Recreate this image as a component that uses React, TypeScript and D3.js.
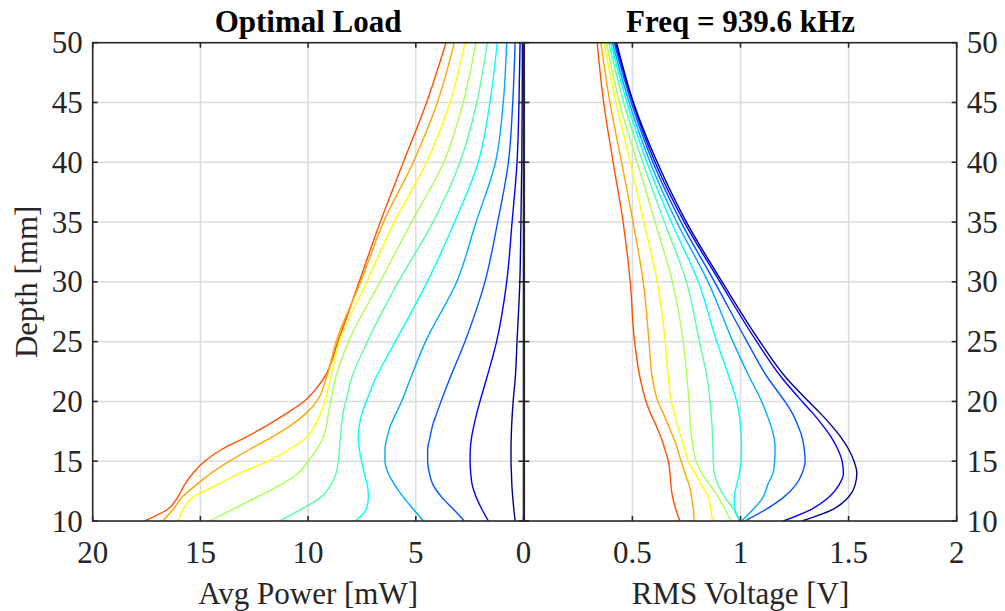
import React from "react";
import * as d3 from "d3";

const depths = [10, 11, 12, 13, 14, 15, 16, 17, 18, 19, 20, 22, 25, 30, 35, 40, 45, 50];

// Avg power [mW] per curve (left panel)
const powerRed = [17.6, 16.5, 16.05, 15.75, 15.35, 14.8, 14.0, 12.9, 11.9, 11.0, 10.2, 9.25, 8.62, 7.63, 6.65, 5.58, 4.5, 3.6];
const powerOrange = [16.76, 16.25, 15.85, 15.2, 14.5, 13.65, 12.7, 11.7, 10.8, 10.1, 9.6, 9.15, 8.7, 7.56, 6.5, 5.12, 4.0, 3.21];
const powerYellow = [16.03, 15.8, 15.34, 14.25, 13.17, 11.85, 10.85, 10.07, 9.68, 9.42, 9.22, 8.95, 8.55, 7.28, 6.0, 4.5, 3.41, 2.72];
const powerYellowGreen = [14.58, 13.48, 12.39, 11.31, 10.46, 10.0, 9.6, 9.3, 9.14, 9.06, 8.95, 8.72, 8.12, 6.66, 5.2, 3.7, 2.8, 2.21];
const powerGreen = [11.34, 10.3, 9.4, 8.95, 8.7, 8.6, 8.55, 8.5, 8.45, 8.38, 8.25, 7.97, 7.25, 5.81, 4.2, 2.95, 2.17, 1.68];
const powerCyan = [7.8, 7.3, 7.2, 7.25, 7.4, 7.52, 7.62, 7.67, 7.62, 7.5, 7.3, 6.85, 5.95, 4.47, 3.2, 2.1, 1.56, 1.22];
const powerLightBlue = [4.65, 5.12, 5.58, 5.97, 6.28, 6.43, 6.43, 6.33, 6.17, 5.92, 5.66, 5.23, 4.55, 3.1, 2.2, 1.3, 0.94, 0.78];
const powerBlue = [2.75, 3.26, 3.8, 4.19, 4.37, 4.45, 4.45, 4.34, 4.22, 4.03, 3.83, 3.4, 2.72, 1.79, 1.2, 0.7, 0.5, 0.39];
const powerBlue2 = [1.63, 1.94, 2.2, 2.38, 2.45, 2.48, 2.47, 2.41, 2.3, 2.17, 2.02, 1.7, 1.25, 0.78, 0.53, 0.3, 0.21, 0.16];
const powerNavy = [0.39, 0.45, 0.5, 0.54, 0.56, 0.58, 0.58, 0.57, 0.55, 0.52, 0.48, 0.38, 0.3, 0.17, 0.12, 0.08, 0.06, 0.05];

// RMS voltage [V] per curve (right panel)
const voltRed = [0.72, 0.7, 0.686, 0.678, 0.674, 0.666, 0.65, 0.632, 0.609, 0.584, 0.563, 0.535, 0.51, 0.49, 0.457, 0.411, 0.367, 0.337];
const voltOrange = [0.786, 0.782, 0.774, 0.763, 0.743, 0.725, 0.709, 0.689, 0.666, 0.643, 0.618, 0.592, 0.577, 0.55, 0.503, 0.45, 0.396, 0.354];
const voltYellow = [0.87, 0.863, 0.851, 0.82, 0.789, 0.758, 0.743, 0.725, 0.708, 0.694, 0.68, 0.666, 0.652, 0.615, 0.553, 0.49, 0.424, 0.368];
const voltYellowGreen = [0.955, 0.928, 0.897, 0.859, 0.82, 0.794, 0.782, 0.774, 0.768, 0.765, 0.762, 0.752, 0.735, 0.685, 0.605, 0.522, 0.44, 0.38];
const voltGreen = [0.995, 0.967, 0.928, 0.897, 0.879, 0.874, 0.873, 0.871, 0.868, 0.864, 0.859, 0.845, 0.81, 0.75, 0.648, 0.548, 0.46, 0.391];
const voltCyan = [0.998, 0.975, 0.971, 0.982, 0.995, 1.002, 1.005, 1.004, 1.0, 0.993, 0.982, 0.948, 0.89, 0.805, 0.68, 0.567, 0.475, 0.4];
const voltLightBlue = [1.005, 1.06, 1.105, 1.125, 1.15, 1.158, 1.16, 1.155, 1.14, 1.12, 1.098, 1.042, 0.965, 0.85, 0.705, 0.582, 0.485, 0.408];
const voltBlue = [1.02, 1.12, 1.2, 1.255, 1.285, 1.299, 1.295, 1.285, 1.265, 1.24, 1.205, 1.125, 1.03, 0.88, 0.725, 0.595, 0.495, 0.416];
const voltBlue2 = [1.198, 1.33, 1.41, 1.455, 1.476, 1.47, 1.45, 1.42, 1.38, 1.335, 1.285, 1.19, 1.075, 0.905, 0.74, 0.605, 0.502, 0.422];
const voltNavy = [1.283, 1.43, 1.5, 1.53, 1.538, 1.525, 1.5, 1.465, 1.42, 1.37, 1.315, 1.21, 1.09, 0.915, 0.75, 0.615, 0.505, 0.427];

const seriesColors = ["#ff5000", "#ffa500", "#ffff00", "#aaff55", "#55ffaa", "#00ffff", "#00aaff", "#0055ff", "#0000ff", "#00008f"];
const powerSeries = [powerRed, powerOrange, powerYellow, powerYellowGreen, powerGreen, powerCyan, powerLightBlue, powerBlue, powerBlue2, powerNavy];
const voltSeries = [voltRed, voltOrange, voltYellow, voltYellowGreen, voltGreen, voltCyan, voltLightBlue, voltBlue, voltBlue2, voltNavy];

const yTicks = [10, 15, 20, 25, 30, 35, 40, 45, 50];
const powerTicks = [20, 15, 10, 5, 0];
const voltTicks = [0.5, 1, 1.5, 2];

const leftTitle = "Optimal Load";
const rightTitle = "Freq = 939.6 kHz";
const leftXLabel = "Avg Power [mW]";
const rightXLabel = "RMS Voltage [V]";
const yLabel = "Depth [mm]";

const W = 1005;
const H = 611;
const top = 42.7;
const bottom = 521;
const L0 = 92.7, L1 = 523.5;
const R0 = 524.3, R1 = 956.7;
const axisColor = "#262626";
const gridColor = "#dcdcdc";
const font = "'Liberation Serif', 'Times New Roman', serif";
const fs = 31;
const tickLen = 5;

export default function App() {
  const y = d3.scaleLinear().domain([10, 50]).range([bottom, top]);
  const xP = d3.scaleLinear().domain([20, 0]).range([L0, L1]);
  const xV = d3.scaleLinear().domain([0, 2]).range([R0, R1]);

  const mkLine = (xs: d3.ScaleLinear<number, number>) =>
    d3
      .line<[number, number]>()
      .x((p) => xs(p[0]))
      .y((p) => y(p[1]))
      .curve(d3.curveMonotoneY);

  const lineP = mkLine(xP);
  const lineV = mkLine(xV);
  const pts = (s: number[]) =>
    depths.map((d, k) => [s[k], d] as [number, number]).slice().reverse();

  return (
    <svg width={W} height={H} style={{ position: "absolute", left: 0, top: 0, background: "#fff" }}>
      <defs>
        <clipPath id="clipL">
          <rect x={L0} y={top} width={L1 - L0} height={bottom - top} />
        </clipPath>
        <clipPath id="clipR">
          <rect x={R0} y={top} width={R1 - R0} height={bottom - top} />
        </clipPath>
      </defs>
      <rect x={0} y={0} width={W} height={H} fill="#fff" />
      <g stroke={gridColor} strokeWidth={1.5}>
        {yTicks.filter((t) => t > 10 && t < 50).map((t) => (
          <g key={"gy" + t}>
            <line x1={L0} x2={L1} y1={y(t)} y2={y(t)} />
            <line x1={R0} x2={R1} y1={y(t)} y2={y(t)} />
          </g>
        ))}
        {powerTicks.filter((t) => t > 0 && t < 20).map((t) => (
          <line key={"gp" + t} x1={xP(t)} x2={xP(t)} y1={top} y2={bottom} />
        ))}
        {voltTicks.filter((t) => t < 2).map((t) => (
          <line key={"gv" + t} x1={xV(t)} x2={xV(t)} y1={top} y2={bottom} />
        ))}
      </g>
      <g clipPath="url(#clipL)" fill="none" strokeWidth={1.4}>
        {powerSeries.map((s, i) => (
          <path key={"p" + i} d={lineP(pts(s)) || ""} stroke={seriesColors[i]} />
        ))}
      </g>
      <g clipPath="url(#clipR)" fill="none" strokeWidth={1.4}>
        {voltSeries.map((s, i) => (
          <path key={"v" + i} d={lineV(pts(s)) || ""} stroke={seriesColors[i]} />
        ))}
      </g>
      <g fill="none" stroke={axisColor} strokeWidth={1.6}>
        <rect x={L0} y={top} width={L1 - L0} height={bottom - top} />
        <rect x={R0} y={top} width={R1 - R0} height={bottom - top} />
      </g>
      <g stroke={axisColor} strokeWidth={1.6}>
        {yTicks.map((t) => (
          <g key={"ty" + t}>
            <line x1={L0} x2={L0 + tickLen} y1={y(t)} y2={y(t)} />
            <line x1={L1} x2={L1 - tickLen} y1={y(t)} y2={y(t)} />
            <line x1={R0} x2={R0 + tickLen} y1={y(t)} y2={y(t)} />
            <line x1={R1} x2={R1 - tickLen} y1={y(t)} y2={y(t)} />
          </g>
        ))}
        {powerTicks.map((t) => (
          <g key={"tp" + t}>
            <line x1={xP(t)} x2={xP(t)} y1={bottom} y2={bottom - tickLen} />
            <line x1={xP(t)} x2={xP(t)} y1={top} y2={top + tickLen} />
          </g>
        ))}
        {voltTicks.map((t) => (
          <g key={"tv" + t}>
            <line x1={xV(t)} x2={xV(t)} y1={bottom} y2={bottom - tickLen} />
            <line x1={xV(t)} x2={xV(t)} y1={top} y2={top + tickLen} />
          </g>
        ))}
      </g>
      <g fontFamily={font} fontSize={fs} fill="#262626">
        {yTicks.map((t) => (
          <g key={"ly" + t}>
            <text x={L0 - 10} y={y(t)} textAnchor="end" dominantBaseline="central">{t}</text>
            <text x={R1 + 10} y={y(t)} textAnchor="start" dominantBaseline="central">{t}</text>
          </g>
        ))}
        {powerTicks.map((t) => (
          <text key={"lp" + t} x={xP(t)} y={563} textAnchor="middle">{t}</text>
        ))}
        {voltTicks.map((t) => (
          <text key={"lv" + t} x={xV(t)} y={563} textAnchor="middle">{t}</text>
        ))}
        <text x={(L0 + L1) / 2} y={604} textAnchor="middle">{leftXLabel}</text>
        <text x={(R0 + R1) / 2} y={604} textAnchor="middle">{rightXLabel}</text>
        <text transform={`translate(37,${(top + bottom) / 2}) rotate(-90)`} textAnchor="middle">{yLabel}</text>
      </g>
      <g fontFamily={font} fontSize={fs} fontWeight="bold" fill="#000">
        <text x={(L0 + L1) / 2} y={32} textAnchor="middle">{leftTitle}</text>
        <text x={(R0 + R1) / 2} y={32} textAnchor="middle">{rightTitle}</text>
      </g>
    </svg>
  );
}
